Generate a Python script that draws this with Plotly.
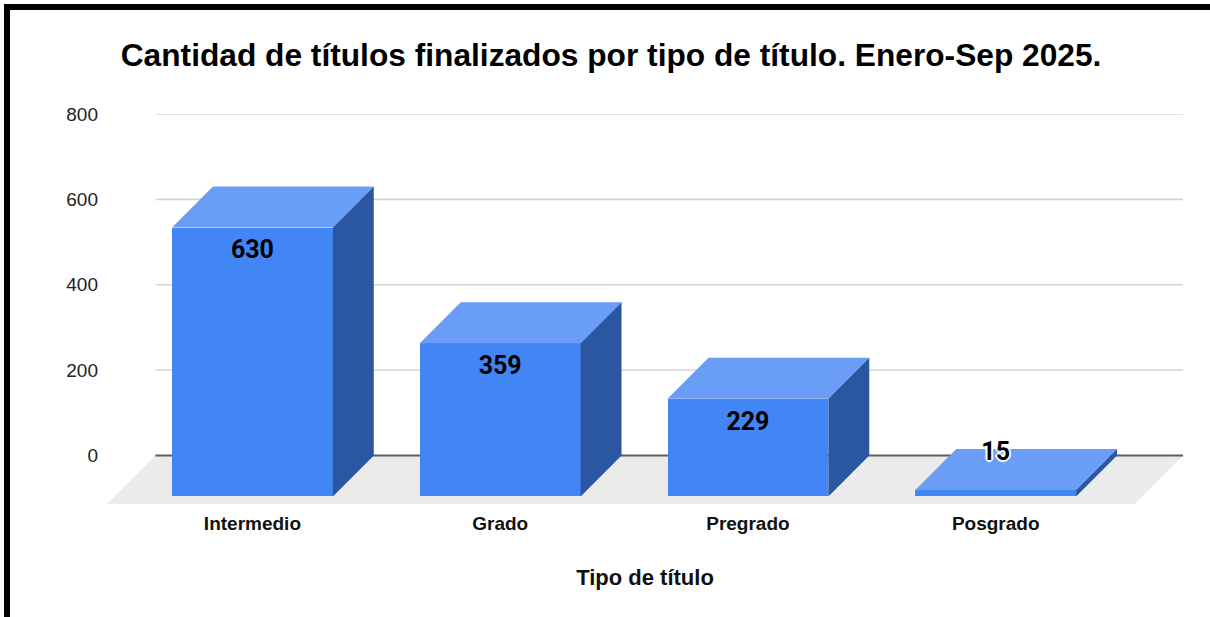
import plotly.graph_objects as go

# ---- data ----
categories = ["Intermedio", "Grado", "Pregrado", "Posgrado"]
values = [630, 359, 229, 15]
y_ticks = [0, 200, 400, 600, 800]
title_text = "Cantidad de títulos finalizados por tipo de título. Enero-Sep 2025."
x_title = "Tipo de título"

# ---- styling / 3D projection constants ----
FRONT = "#4285F4"
TOP = "#699DF6"
SIDE = "#2B56A2"
FLOOR = "#EBEBEB"
GRID = "#D4D4D4"
ZERO = "#5F5F5F"

BAR_W = 0.649        # front face width (category units)
DX = 0.1653          # bar depth, horizontal (category units)
DY = 96.2            # bar depth, vertical (value units)
FLOOR_DX = 0.1955    # floor depth, horizontal
FLOOR_DY = 113.8     # floor depth, vertical
X_RANGE = [-0.587, 3.756]
Y_RANGE = [-FLOOR_DY, 800]

ML, MR, MT, MB = 107, 27, 114, 113
W, H = 1210, 617
PW, PH = W - ML - MR, H - MT - MB


def paper_x(px):
    return (px - ML) / PW


def paper_y(py):
    return (H - MB - py) / PH


xs = list(range(len(categories)))
fig = go.Figure()

# front faces via bar trace
fig.add_trace(go.Bar(x=xs, y=values, base=[-DY] * len(values), width=BAR_W,
                     marker=dict(color=FRONT, line=dict(width=0)),
                     hoverinfo="skip", showlegend=False))

# top and side faces
tx, ty, sx, sy = [], [], [], []
for i, v in zip(xs, values):
    l, r = i - BAR_W / 2, i + BAR_W / 2
    tx += [l, r, r + DX, l + DX, l, None]
    ty += [v - DY, v - DY, v, v, v - DY, None]
    sx += [r, r + DX, r + DX, r, r, None]
    sy += [-DY, 0, v, v - DY, -DY, None]
fig.add_trace(go.Scatter(x=tx, y=ty, mode="lines", fill="toself", fillcolor=TOP,
                         line=dict(width=0, color=TOP), hoverinfo="skip", showlegend=False))
fig.add_trace(go.Scatter(x=sx, y=sy, mode="lines", fill="toself", fillcolor=SIDE,
                         line=dict(width=0, color=SIDE), hoverinfo="skip", showlegend=False))

# data labels
scale = PH / (Y_RANGE[1] - Y_RANGE[0])  # px per value unit
in_x, in_y, in_t, out_x, out_y, out_t = [], [], [], [], [], []
for i, v in zip(xs, values):
    if v * scale > 44:
        in_x.append(i); in_y.append(v - DY - 24.5 / scale); in_t.append(str(v))
    else:
        out_x.append(i); out_y.append(v - DY + 36 / scale); out_t.append(str(v))
fig.add_trace(go.Scatter(x=in_x, y=in_y, text=in_t, mode="text", textposition="middle center",
                         textfont=dict(family="Roboto", size=25, color="black", weight="bold"),
                         hoverinfo="skip", showlegend=False, cliponaxis=False))
fig.add_trace(go.Scatter(x=out_x, y=out_y, text=out_t, mode="text", textposition="middle center",
                         textfont=dict(family="Roboto", size=25, color="black", weight="bold",
                                       shadow="1px 1px 1px white, -1px -1px 1px white, 1px -1px 1px white, -1px 1px 1px white, 0 2px 1px white, 0 -2px 1px white, 2px 0 1px white, -2px 0 1px white"),
                         hoverinfo="skip", showlegend=False, cliponaxis=False))

shapes = []
# floor
x0, x1 = X_RANGE
shapes.append(dict(type="path", xref="x", yref="y", layer="below", line=dict(width=0),
                   fillcolor=FLOOR,
                   path=f"M {x0},{-FLOOR_DY} L {x1 - FLOOR_DX},{-FLOOR_DY} L {x1},0 L {x0 + FLOOR_DX},0 Z"))
# gridlines on back plane
for t in y_ticks:
    shapes.append(dict(type="line", xref="x", yref="y", layer="below",
                       x0=x0 + FLOOR_DX, x1=x1, y0=t, y1=t,
                       line=dict(color=ZERO if t == 0 else GRID, width=2 if t == 0 else 1.6)))
# frame border (top and left)
shapes.append(dict(type="rect", xref="paper", yref="paper", layer="above", line=dict(width=0),
                   fillcolor="black", x0=paper_x(4), x1=paper_x(W + 2), y0=paper_y(10), y1=paper_y(4)))
shapes.append(dict(type="rect", xref="paper", yref="paper", layer="above", line=dict(width=0),
                   fillcolor="black", x0=paper_x(4), x1=paper_x(10), y0=paper_y(H + 2), y1=paper_y(4)))

fig.update_layout(
    width=W, height=H,
    margin=dict(l=ML, r=MR, t=MT, b=MB, autoexpand=False),
    paper_bgcolor="white", plot_bgcolor="rgba(0,0,0,0)",
    title=dict(text=title_text, x=0.505, xref="container", xanchor="center",
               y=1 - 55 / H, yref="container", yanchor="middle",
               font=dict(family="Liberation Sans, Arial", size=31.7, color="black", weight="bold")),
    xaxis=dict(range=X_RANGE, tickmode="array", tickvals=xs, ticktext=categories,
               showgrid=False, zeroline=False, showline=False, ticks="",
               ticklabelstandoff=6,
               tickfont=dict(family="Liberation Sans, Arial", size=19, color="#111111", weight="bold"),
               title=dict(text=x_title, standoff=36,
                          font=dict(family="Liberation Sans, Arial", size=22, color="#111111", weight="bold"))),
    yaxis=dict(range=Y_RANGE, tickmode="array", tickvals=y_ticks,
               showgrid=False, zeroline=False, showline=False, ticks="",
               ticklabelstandoff=8,
               tickfont=dict(family="Liberation Sans, Arial", size=19, color="#222222")),
    shapes=shapes,
    bargap=0,
)

fig.write_html("out.html", config={"displayModeBar": False},
               post_script="document.body.style.margin='0';")
